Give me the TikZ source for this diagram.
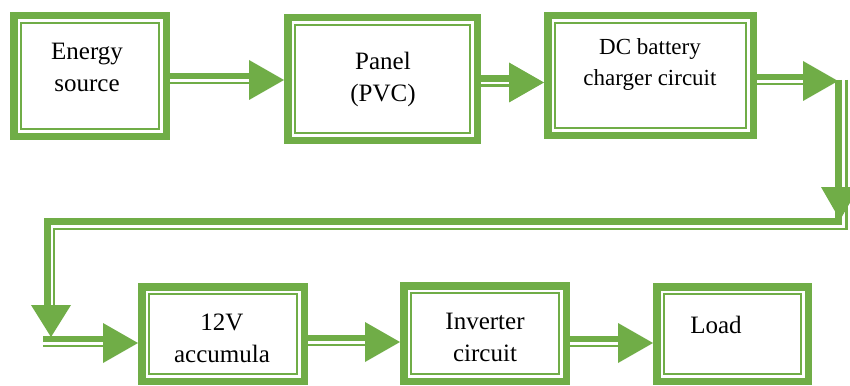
\documentclass[tikz,border=0pt]{standalone}
\usepackage{fontspec}
\setmainfont{Liberation Serif}
\usetikzlibrary{calc}
\definecolor{gr}{HTML}{70AD47}
\newcommand\harrow[2]{%
  \draw[thk] ([yshift=4pt]#1) -- ([yshift=4pt,xshift=-20pt]#2);
  \draw[thn] ([yshift=-3pt]#1) -- ([yshift=-3pt,xshift=-20pt]#2);
  \fill[gr] (#2) -- ([xshift=-35pt,yshift=20pt]#2) -- ([xshift=-35pt,yshift=-20pt]#2) -- cycle;}
\newcommand\innerbox[1]{%
  \draw[gr, line width=2pt] ([shift={(11pt,-11pt)}]#1.north west) rectangle ([shift={(-11pt,11pt)}]#1.south east);}
\begin{document}
\begin{tikzpicture}[x=1pt,y=-1pt,
  box/.style={draw=gr, line width=7.5pt, fill=white, inner sep=0pt},
  txt/.style={anchor=base, inner sep=0pt, font=\fontsize{25}{30}\selectfont},
  txts/.style={anchor=base, inner sep=0pt, font=\fontsize{23}{28}\selectfont},
  thk/.style={draw=gr, line width=6.5pt},
  thn/.style={draw=gr, line width=2.5pt}]
\path[use as bounding box, clip] (0,0) rectangle (850,385);
\fill[white] (0,0) rectangle (850,385);
% boxes
\node[box, minimum width=152.5pt, minimum height=120.5pt] (e) at (90,76) {};
\node[box, minimum width=189.5pt, minimum height=122.5pt] (p) at (382.5,79) {};
\node[box, minimum width=205.5pt, minimum height=119.5pt] (d) at (650.5,75.5) {};
\node[box, minimum width=162.5pt, minimum height=94.5pt] (a) at (223,334) {};
\node[box, minimum width=162.5pt, minimum height=95.5pt] (i) at (485,333.5) {};
\node[box, minimum width=151.5pt, minimum height=94.5pt] (l) at (732.5,334) {};
\foreach \b in {e,p,d,a,i,l}{\innerbox{\b}}
% texts
\node[txt] (e1) at (87,60) {Energy};
\node[txt] (e2) at (87,92) {source};
\node[txt] (p1) at (383,70) {Panel};
\node[txt] (p2) at (383,102) {(PVC)};
\node[txts] (d1) at (650,55) {DC battery};
\node[txts] (d2) at (650,85) {charger circuit};
\node[txt] (a1) at (222,330) {12V};
\node[txt] (a2) at (222,362) {accumula};
\node[txt] (i1) at (485,329) {Inverter};
\node[txt] (i2) at (485,361) {circuit};
\node[txt] (l1) at (716,333) {Load};
% rows
\coordinate (r1) at (0,80);
\coordinate (r2) at (0,82.5);
\coordinate (r3) at (0,81);
\coordinate (r4) at (0,343);
\coordinate (r5) at (0,342);
\coordinate (r6) at (0,343);
\coordinate (k1) at (838,81);
\coordinate (k2) at (840,220);
\coordinate (k3) at (51,337);
\coordinate (k4) at (43,343);
% top row connectors
\coordinate (s1) at (e.east |- r1); \coordinate (t1) at (p.west |- r1);
\harrow{s1}{t1}
\coordinate (s2) at (p.east |- r2); \coordinate (t2) at (d.west |- r2);
\harrow{s2}{t2}
\coordinate (s3) at (d.east |- r3);
\harrow{s3}{k1}
% loop from the top row to the bottom row
\draw[thk, line width=7pt] (838,80) -- (838,221.5) -- (47,221.5) -- (47,312);
\draw[thn] (846.5,80) -- (846.5,229) -- (54,229) -- (54,312);
\fill[gr] (k2) -- ([shift={(-19pt,33pt)}]k2) -- ([shift={(19pt,33pt)}]k2) -- cycle;
\fill[gr] (k3) -- ([shift={(-20pt,32pt)}]k3) -- ([shift={(20pt,32pt)}]k3) -- cycle;
% bottom row connectors
\coordinate (t4) at (a.west |- r4);
\harrow{k4}{t4}
\coordinate (s5) at (a.east |- r5); \coordinate (t5) at (i.west |- r5);
\harrow{s5}{t5}
\coordinate (s6) at (i.east |- r6); \coordinate (t6) at (l.west |- r6);
\harrow{s6}{t6}
\end{tikzpicture}
\end{document}
